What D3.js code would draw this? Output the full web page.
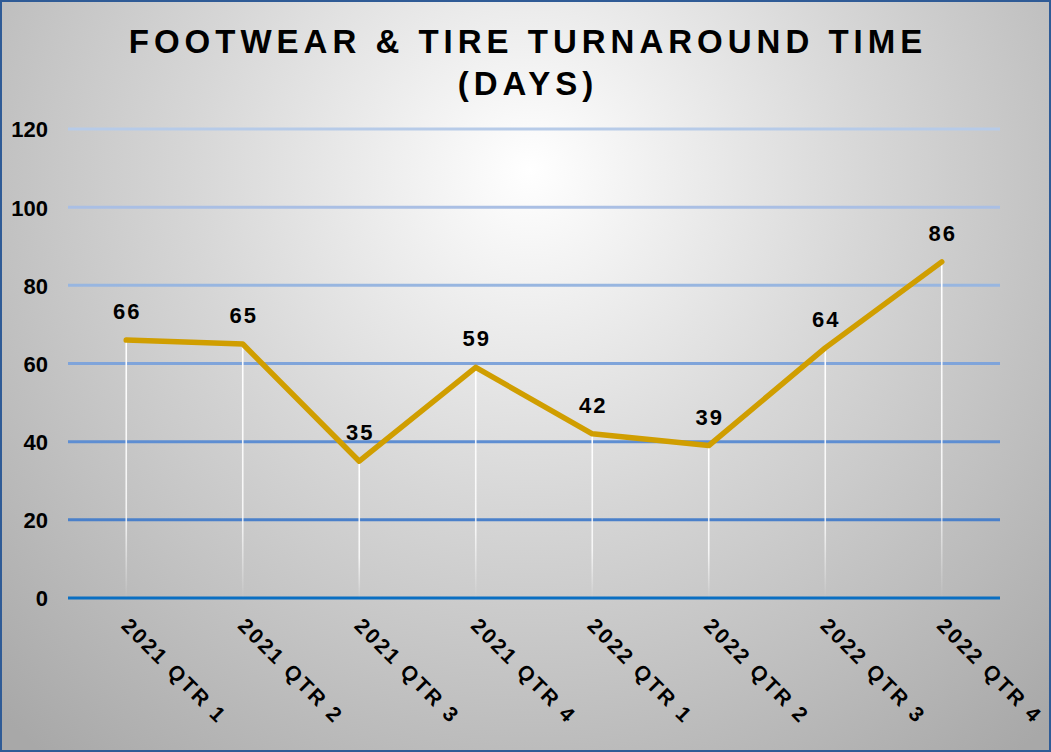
<!DOCTYPE html>
<html><head><meta charset="utf-8">
<script src="https://cdn.jsdelivr.net/npm/d3@7"></script>
<style>html,body{margin:0;padding:0;background:#fff;}svg{display:block;}</style>
</head><body>
<script>
const categories = ["2021 QTR 1","2021 QTR 2","2021 QTR 3","2021 QTR 4","2022 QTR 1","2022 QTR 2","2022 QTR 3","2022 QTR 4"];
const values = [66,65,35,59,42,39,64,86];
const yTicks = [0,20,40,60,80,100,120];
const gridColors = ["#0A6FC2","#4A80CA","#5E8ED2","#7FA4DA","#98B6E0","#AABFE4","#B7CBE8"];
const titleLines = ["FOOTWEAR & TIRE TURNAROUND TIME","(DAYS)"];

const W = 1051, H = 752;
const FONT = "Liberation Sans, Arial, sans-serif";
const svg = d3.select("body").append("svg").attr("width", W).attr("height", H);
const defs = svg.append("defs");
const bg = defs.append("radialGradient").attr("id","bg").attr("gradientUnits","userSpaceOnUse")
  .attr("cx",530).attr("cy",170).attr("r",760);
bg.append("stop").attr("offset","0%").attr("stop-color","#FFFFFF");
bg.append("stop").attr("offset","45%").attr("stop-color","#D6D6D6");
bg.append("stop").attr("offset","100%").attr("stop-color","#A8A8A8");
const dg = defs.append("linearGradient").attr("id","drop").attr("x1",0).attr("y1",0).attr("x2",0).attr("y2",1);
dg.append("stop").attr("offset","0%").attr("stop-color","#fff").attr("stop-opacity",1);
dg.append("stop").attr("offset","70%").attr("stop-color","#fff").attr("stop-opacity",0.8);
dg.append("stop").attr("offset","100%").attr("stop-color","#fff").attr("stop-opacity",0);

svg.append("rect").attr("x",1).attr("y",1).attr("width",W-2).attr("height",H-2)
  .attr("fill","url(#bg)").attr("stroke","#2F5B96").attr("stroke-width",2);

const x = d3.scaleBand().domain(categories).range([68,1000]);
const y = d3.scaleLinear().domain([0,120]).range([598,129]);

// title
svg.append("g").selectAll("text").data(titleLines).join("text")
  .attr("x", 528).attr("y",(d,i)=>53+i*42)
  .attr("text-anchor","middle")
  .attr("font-family",FONT)
  .attr("font-weight","bold").attr("font-size",33).attr("letter-spacing",5)
  .attr("fill","#000").text(d=>d);

// gridlines
svg.append("g").selectAll("line").data(yTicks).join("line")
  .attr("x1",68).attr("x2",1000)
  .attr("y1",d=>y(d)).attr("y2",d=>y(d))
  .attr("stroke",(d,i)=>gridColors[i]).attr("stroke-width",3);

// y axis labels
const yAxis = d3.axisLeft(y).tickValues(yTicks).tickSize(0).tickPadding(0);
const ya = svg.append("g").attr("transform","translate(48,0)").call(yAxis);
ya.select(".domain").remove();
ya.selectAll("text").attr("font-family",FONT)
  .attr("font-weight","bold").attr("font-size",22).attr("fill","#000").attr("dy","0.36em");

// x axis labels
const xAxis = d3.axisBottom(x).tickSize(0).tickPadding(0);
const xa = svg.append("g").attr("transform","translate(0,598)").call(xAxis);
xa.select(".domain").remove();
xa.selectAll("text")
  .attr("font-family",FONT)
  .attr("font-size",21).attr("font-weight","bold").attr("letter-spacing",2.4).attr("fill","#000")
  .attr("text-anchor","start").attr("y",0).attr("dy",0)
  .attr("transform","translate(-6,29) rotate(45)");

const cx = d => x(d) + x.bandwidth()/2;

// drop lines
svg.append("g").selectAll("line").data(values).join("line")
  .attr("x1",(d,i)=>cx(categories[i])).attr("x2",(d,i)=>cx(categories[i])+0.01)
  .attr("y1",d=>y(d)).attr("y2",y(0))
  .attr("stroke","url(#drop)").attr("stroke-width",1.6);

// line
const line = d3.line().x((d,i)=>cx(categories[i])).y(d=>y(d));
svg.append("path").datum(values).attr("d",line)
  .attr("fill","none").attr("stroke","#D09E00").attr("stroke-width",5.5)
  .attr("stroke-linejoin","round").attr("stroke-linecap","round");

// data labels
svg.append("g").selectAll("text").data(values).join("text")
  .attr("x",(d,i)=>cx(categories[i])+1).attr("y",d=>y(d)-21)
  .attr("text-anchor","middle")
  .attr("font-family",FONT)
  .attr("font-weight","bold").attr("font-size",22).attr("letter-spacing",2).attr("fill","#000")
  .text(d=>d);
</script>
</body></html>
